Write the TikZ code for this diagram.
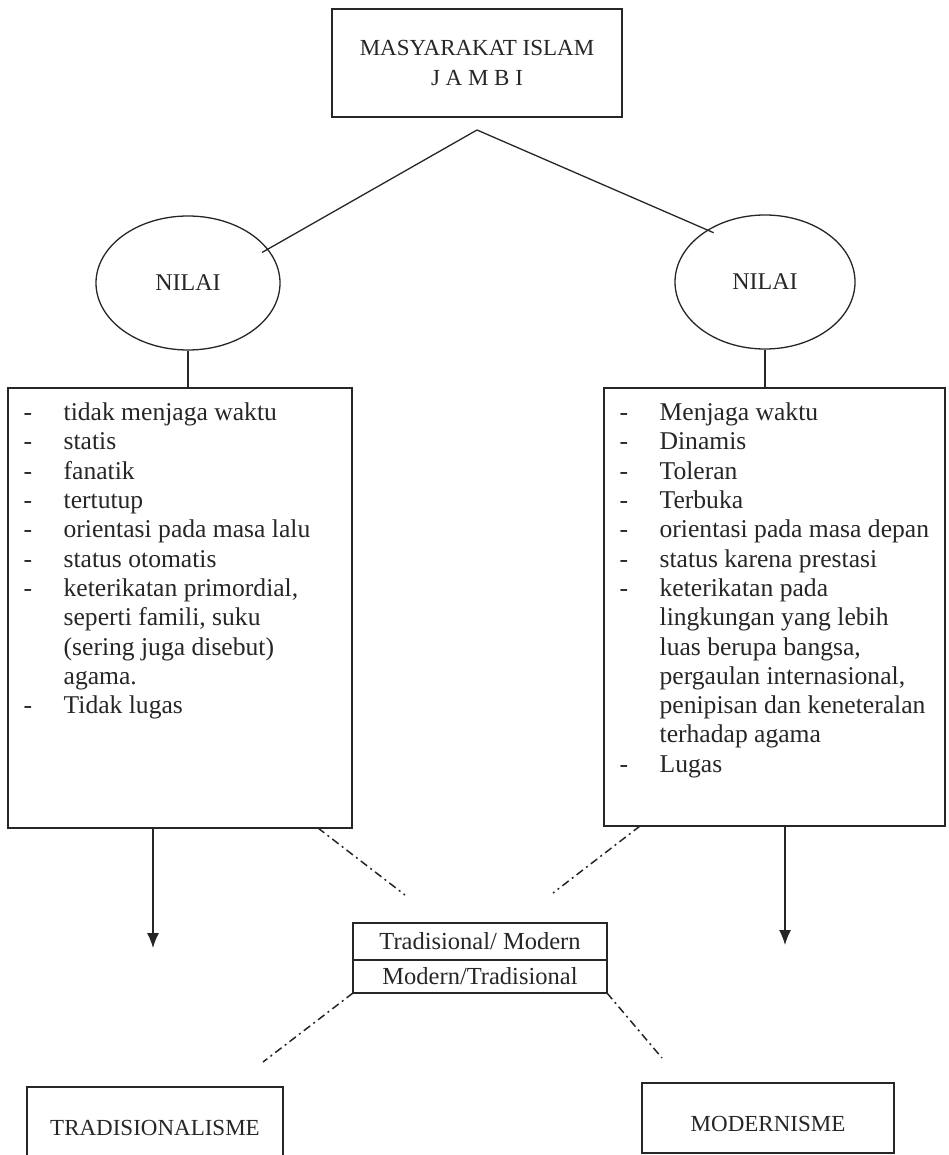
\documentclass[tikz,border=0pt]{standalone}
\usepackage{fontspec}
\setmainfont{Liberation Serif}
\usepackage{tikz}
\usetikzlibrary{shapes.geometric,positioning,arrows.meta}

\begin{document}
\begin{tikzpicture}[x=1pt,y=-1pt,color=black!85,line width=1.3pt,
	box/.style={draw,rectangle,inner sep=0pt,outer sep=0pt},
	oval/.style={draw,ellipse,inner sep=0pt,minimum height=134pt,font=\fontsize{24}{28}\selectfont},
	listtext/.style={inner sep=0pt,anchor=north west,font=\fontsize{25.6}{29.3}\selectfont},
	namefont/.style={font=\fontsize{23}{30}\selectfont},
	midfont/.style={font=\fontsize{24.5}{28}\selectfont},
	dashdot/.style={line width=1.5pt,dash pattern=on 8pt off 4pt on 2pt off 4pt}]
	\useasboundingbox (0,0) rectangle (948,1155);
	\node[box,namefont,align=center,minimum width=290pt,minimum height=108pt] (top) at (477,63) {MASYARAKAT ISLAM\\J A M B I};
	\node[oval,minimum width=184pt] (nilaiL) at (188,283) {NILAI};
	\node[oval,minimum width=180pt] (nilaiR) at (765,282) {NILAI};
	\node[box,minimum width=344pt,minimum height=440pt] (boxL) at (180,608) {};
	\node[box,minimum width=341pt,minimum height=438pt] (boxR) at (774.5,607) {};
	\node[listtext] (listL) at ([xshift=15pt,yshift=-11.5pt]boxL.north west) {%
		\begin{tabular}{@{}p{40pt}@{}l@{}}
		- & tidak menjaga waktu\\
		- & statis\\
		- & fanatik\\
		- & tertutup\\
		- & orientasi pada masa lalu\\
		- & status otomatis\\
		- & keterikatan primordial,\\
		  & seperti famili, suku\\
		  & (sering juga disebut)\\
		  & agama.\\
		- & Tidak lugas
		\end{tabular}};
	\node[listtext] (listR) at ([xshift=15pt,yshift=-11.5pt]boxR.north west) {%
		\begin{tabular}{@{}p{40pt}@{}l@{}}
		- & Menjaga waktu\\
		- & Dinamis\\
		- & Toleran\\
		- & Terbuka\\
		- & orientasi pada masa depan\\
		- & status karena prestasi\\
		- & keterikatan pada\\
		  & lingkungan yang lebih\\
		  & luas berupa bangsa,\\
		  & pergaulan internasional,\\
		  & penipisan dan keneteralan\\
		  & terhadap agama\\
		- & Lugas
		\end{tabular}};
	\node[box,midfont,minimum width=254pt,minimum height=37pt] (midT) at (480,941.5) {Tradisional/ Modern};
	\node[box,midfont,minimum width=254pt,minimum height=33pt,below=0pt of midT] (midB) {Modern/Tradisional};
	\node[box,namefont,text height=27pt,minimum width=256pt,minimum height=70pt] (trad) at (155,1122) {TRADISIONALISME};
	\node[box,namefont,text height=27pt,minimum width=252pt,minimum height=70pt] (modern) at (768,1118) {MODERNISME};
	%
	\coordinate (apex) at (477,130);
	\coordinate (tipL) at (153,948);
	\coordinate (tipR) at (785,945);
	\coordinate (ulEnd) at (405,895);
	\coordinate (urEnd) at (553,893);
	\coordinate (llEnd) at (263,1062);
	\coordinate (lrEnd) at (662,1058);
	%
	\draw[shorten >=-7pt] (apex) -- (nilaiL.23);
	\draw[shorten >=-7pt] (apex) -- (nilaiR.138);
	\draw (nilaiL.south) -- (nilaiL.south |- boxL.north);
	\draw (nilaiR.south) -- (nilaiR.south |- boxR.north);
	\path[-{Latex[length=15pt,width=12pt]}]
	(boxL.south -| tipL) edge (tipL)
	(boxR.south -| tipR) edge (tipR);
	\draw[dashdot] ([xshift=-34pt]boxL.south east) -- (ulEnd);
	\draw[dashdot] ([xshift=36pt]boxR.south west) -- (urEnd);
	\draw[dashdot] (midB.south west) -- (llEnd);
	\draw[dashdot] (midB.south east) -- (lrEnd);
\end{tikzpicture}
\end{document}
